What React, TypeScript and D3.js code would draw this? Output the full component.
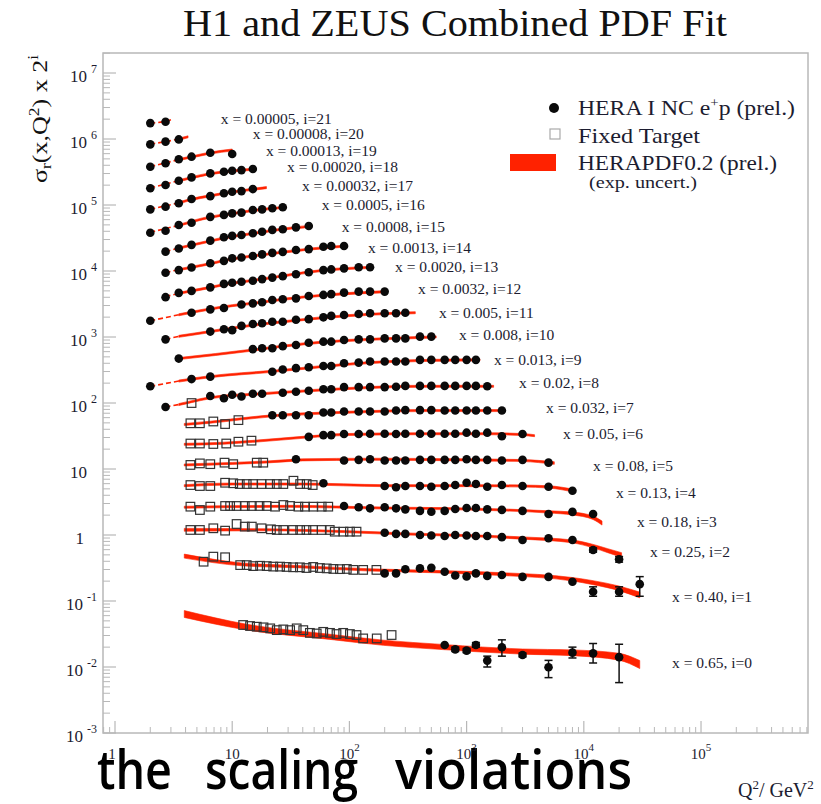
import React from "react";
import * as d3 from "d3";

// Bin labels, index = i (plotted value is sigma_r * 2^i)
const binX = [
  "0.65", "0.40", "0.25", "0.18", "0.13", "0.08", "0.05", "0.032", "0.02", "0.013", "0.008",
  "0.005", "0.0032", "0.0020", "0.0013", "0.0008", "0.0005", "0.00032", "0.00020", "0.00013",
  "0.00008", "0.00005",
];

// HERA I NC e+p points per bin: [Q2, sigma_r, errLow?, errHigh?]
const heraPoints: number[][][] = [
  [[650, 0.0216], [800, 0.0185, 0.0172, 0.0199], [1000, 0.0177, 0.0165, 0.019], [1200, 0.0216, 0.0199, 0.0235],
   [1500, 0.0125, 0.01, 0.0146], [2000, 0.0199, 0.0146, 0.0258], [3000, 0.0152, 0.0142, 0.0163],
   [5000, 0.0099, 0.0069, 0.0126], [8000, 0.0165, 0.0137, 0.02], [12000, 0.0161, 0.0115, 0.0227],
   [20000, 0.0141, 0.0058, 0.0221]],
  [[200, 0.131], [250, 0.131], [300, 0.151], [400, 0.156], [500, 0.159], [650, 0.139], [800, 0.122], [1000, 0.118],
   [1200, 0.131], [1500, 0.12], [2000, 0.124], [3000, 0.116], [5000, 0.116], [8000, 0.098],
   [12000, 0.069, 0.059, 0.082], [20000, 0.069, 0.059, 0.082], [30000, 0.09, 0.059, 0.117]],
  [[200, 0.271], [250, 0.26], [300, 0.26], [400, 0.25], [500, 0.246], [650, 0.242], [800, 0.25], [1000, 0.246],
   [1200, 0.242], [1500, 0.242], [2000, 0.232], [3000, 0.21], [5000, 0.223], [8000, 0.21],
   [12000, 0.148, 0.137, 0.16], [20000, 0.107, 0.097, 0.118]],
  [[90, 0.344], [120, 0.33], [150, 0.317], [200, 0.33], [250, 0.317], [300, 0.306], [400, 0.29], [500, 0.282],
   [650, 0.29], [800, 0.31], [1000, 0.32], [1200, 0.32], [1500, 0.306], [2000, 0.3], [3000, 0.29],
   [5000, 0.26], [8000, 0.28], [12000, 0.26]],
  [[60, 0.38], [200, 0.345], [250, 0.33], [300, 0.345], [400, 0.345], [500, 0.337], [650, 0.345], [800, 0.357],
   [1000, 0.387], [1200, 0.37], [1500, 0.337], [2000, 0.357], [3000, 0.345], [5000, 0.337], [8000, 0.293]],
  [[35, 0.44], [90, 0.42], [120, 0.43], [150, 0.44], [200, 0.42], [250, 0.42], [300, 0.42], [400, 0.43], [500, 0.43],
   [650, 0.43], [800, 0.43], [1000, 0.44], [1200, 0.43], [1500, 0.43], [2000, 0.42], [3000, 0.43], [5000, 0.39]],
  [[45, 0.48], [60, 0.51], [70, 0.51], [90, 0.53], [120, 0.53], [150, 0.535], [200, 0.535], [250, 0.53], [300, 0.535],
   [400, 0.535], [500, 0.535], [650, 0.535], [800, 0.535], [1000, 0.555], [1200, 0.535], [1500, 0.555],
   [2000, 0.49], [3000, 0.53]],
  [[22, 0.51], [27, 0.51], [35, 0.51], [45, 0.51], [60, 0.56], [70, 0.56], [90, 0.58], [120, 0.58], [150, 0.58],
   [200, 0.58], [250, 0.6], [300, 0.61], [400, 0.61], [500, 0.61], [650, 0.6], [800, 0.6], [1000, 0.6],
   [1200, 0.6], [1500, 0.6], [2000, 0.6]],
  [[2.7, 0.34], [6.5, 0.5], [8.5, 0.46], [10, 0.52], [12, 0.49], [15, 0.54], [18, 0.54], [27, 0.56], [35, 0.58],
   [45, 0.6], [60, 0.63], [70, 0.63], [90, 0.68], [120, 0.68], [150, 0.68], [200, 0.68], [250, 0.69], [300, 0.71],
   [400, 0.71], [500, 0.71], [650, 0.71], [800, 0.71], [1000, 0.71], [1200, 0.71], [1500, 0.7]],
  [[2, 0.35], [4.5, 0.45], [6.5, 0.49], [22, 0.58], [27, 0.63], [35, 0.66], [45, 0.68], [60, 0.71], [70, 0.71],
   [90, 0.78], [120, 0.8], [150, 0.83], [200, 0.83], [250, 0.83], [300, 0.83], [400, 0.88], [500, 0.88],
   [650, 0.88], [800, 0.88], [1000, 0.88], [1200, 0.88]],
  [[3.5, 0.46], [15, 0.64], [18, 0.66], [22, 0.66], [27, 0.71], [35, 0.74], [45, 0.8], [60, 0.83], [70, 0.83],
   [90, 0.88], [120, 0.9], [150, 0.9], [200, 0.93], [250, 0.93], [300, 0.93], [400, 0.99], [500, 0.99]],
  [[2.7, 0.45], [6.5, 0.59], [8.5, 0.64], [10, 0.62], [12, 0.72], [15, 0.77], [18, 0.79], [22, 0.83], [27, 0.83],
   [35, 0.89], [45, 0.91], [60, 0.97], [70, 1.02], [90, 1.05], [120, 1.09], [150, 1.12], [200, 1.12],
   [250, 1.12], [300, 1.14]],
  [[2, 0.43], [4.5, 0.57], [6.5, 0.64], [8.5, 0.67], [12, 0.76], [15, 0.79], [18, 0.82], [22, 0.89], [27, 0.91],
   [35, 0.94], [45, 1.02], [60, 1.06], [70, 1.09], [90, 1.15], [120, 1.19], [150, 1.19], [200, 1.19]],
  [[2.7, 0.49], [3.5, 0.57], [4.5, 0.61], [6.5, 0.69], [8.5, 0.78], [10, 0.81], [12, 0.84], [15, 0.87], [18, 0.92],
   [22, 0.97], [27, 1.02], [35, 1.09], [45, 1.17], [60, 1.26], [70, 1.29], [90, 1.34], [120, 1.39], [150, 1.39]],
  [[2.7, 0.575], [3.5, 0.63], [4.5, 0.69], [6.5, 0.8], [8.5, 0.87], [10, 0.95], [12, 0.98], [15, 1.03], [18, 1.09],
   [22, 1.15], [27, 1.19], [35, 1.27], [45, 1.31], [60, 1.42], [70, 1.46], [90, 1.46]],
  [[2.7, 0.6], [3.5, 0.67], [4.5, 0.76], [6.5, 0.88], [8.5, 0.99], [10, 1.04], [12, 1.07], [15, 1.14], [18, 1.2],
   [22, 1.28], [27, 1.31], [35, 1.4], [45, 1.47]],
  [[2, 0.58], [2.7, 0.62], [3.5, 0.76], [4.5, 0.82], [6.5, 1.01], [8.5, 1.08], [10, 1.14], [12, 1.17], [15, 1.28],
   [18, 1.31], [22, 1.36], [27, 1.41]],
  [[2, 0.655], [2.7, 0.72], [3.5, 0.81], [4.5, 0.94], [6.5, 1.04], [8.5, 1.15], [10, 1.21], [12, 1.24], [15, 1.33]],
  [[2, 0.684], [2.7, 0.767], [3.5, 0.89], [4.5, 1.0], [6.5, 1.15], [8.5, 1.22], [10, 1.26], [12, 1.29], [15, 1.34]],
  [[2, 0.725], [2.7, 0.82], [3.5, 0.94], [4.5, 1.03], [6.5, 1.18], [10, 1.13]],
  [[2, 0.79], [2.7, 0.87], [3.5, 0.94]],
  [[2, 0.83], [2.7, 0.87]],
];

// Fixed-target points per bin: [Q2, sigma_r]
const fixedTarget: number[][][] = [
  [[12.4, 0.0433], [14.2, 0.0418], [16.2, 0.0408], [18.5, 0.0399], [21.1, 0.0385], [24, 0.0362], [27.3, 0.0371],
   [31.2, 0.0362], [35.5, 0.0385], [40.4, 0.0362], [46, 0.0329], [52.6, 0.0322], [59.8, 0.0341], [68.3, 0.0329],
   [77.6, 0.0316], [88.5, 0.0329], [101, 0.0316], [115, 0.0305], [131, 0.0271], [171, 0.0271], [229, 0.0305]],
  [[5.7, 0.197], [6.9, 0.235], [8.7, 0.23], [11.7, 0.175], [13.3, 0.175], [15.1, 0.169], [17.3, 0.171],
   [19.7, 0.169], [22.4, 0.166], [25.6, 0.166], [29.1, 0.164], [33.1, 0.162], [37.8, 0.162], [43, 0.158],
   [49.1, 0.164], [56, 0.158], [64, 0.156], [73, 0.153], [83, 0.152], [95, 0.153], [108, 0.148], [131, 0.148],
   [170, 0.148]],
  [[4.4, 0.298], [5.3, 0.298], [6.9, 0.316], [8.7, 0.291], [10.9, 0.367], [12.8, 0.335], [14.7, 0.335],
   [17.8, 0.316], [21.4, 0.305], [24, 0.298], [27.3, 0.298], [33, 0.298], [38, 0.298], [43, 0.298], [49, 0.298],
   [58, 0.298], [68, 0.298], [75, 0.281], [89, 0.281], [101, 0.281], [115, 0.281]],
  [[4.4, 0.336], [5.3, 0.299], [6.5, 0.336], [8.7, 0.344], [9.6, 0.344], [10.9, 0.344], [12.8, 0.344],
   [14.7, 0.344], [17.1, 0.344], [19.7, 0.344], [23.2, 0.336], [27.3, 0.356], [31.2, 0.344], [36.7, 0.336],
   [41.8, 0.336], [49.2, 0.336], [58, 0.336], [66, 0.336]],
  [[4.4, 0.357], [5.3, 0.345], [6.5, 0.345], [8.7, 0.387], [10.2, 0.38], [11.6, 0.37], [13.3, 0.37], [15.1, 0.37],
   [17.8, 0.37], [21, 0.37], [24, 0.37], [27.3, 0.37], [33.3, 0.415], [38, 0.37], [43.2, 0.37], [48.6, 0.357]],
  [[4.4, 0.36], [5.3, 0.38], [6.5, 0.37], [8.6, 0.39], [10.2, 0.37], [16.2, 0.39], [18.4, 0.39]],
  [[4.4, 0.38], [5.3, 0.38], [6.9, 0.374], [8.9, 0.38], [11.3, 0.405], [14.6, 0.42]],
  [[4.4, 0.385], [5.3, 0.385], [6.9, 0.41], [8.7, 0.375], [11.3, 0.43]],
  [[4.5, 0.39]],
];

// HERAPDF0.2 fit per bin: [Q2, sigma_r, relative uncertainty?]
const fitCurves: number[][][] = [
  [[3.9, 0.064, 0.12], [13.3, 0.0404, 0.1], [68, 0.0288, 0.09], [195, 0.0234, 0.09], [620, 0.0202, 0.09],
   [3000, 0.0172, 0.09], [8000, 0.0165, 0.1], [20000, 0.0144, 0.12], [30000, 0.011, 0.14]],
  [[3.9, 0.24, 0.07], [12, 0.18, 0.05], [40, 0.165, 0.04], [150, 0.148, 0.04], [500, 0.14, 0.04],
   [2000, 0.128, 0.05], [8000, 0.107, 0.06], [12000, 0.095, 0.07], [20000, 0.078, 0.08], [30000, 0.062, 0.1]],
  [[3.9, 0.3, 0.05], [20, 0.3], [100, 0.28], [300, 0.26], [1000, 0.245], [3000, 0.225, 0.04], [8000, 0.2, 0.05],
   [12000, 0.17, 0.06], [16000, 0.145, 0.07], [21000, 0.125, 0.08]],
  [[3.9, 0.33], [30, 0.34], [200, 0.32], [1000, 0.31], [5000, 0.28, 0.04], [8000, 0.265, 0.05],
   [12000, 0.228, 0.06], [14300, 0.19, 0.07]],
  [[3.9, 0.35], [10, 0.37], [40, 0.37], [200, 0.35], [1000, 0.35], [3000, 0.345], [5000, 0.335, 0.04],
   [8500, 0.29, 0.05]],
  [[3.9, 0.36], [10, 0.38], [20, 0.4], [40, 0.43], [150, 0.44], [1000, 0.43], [3000, 0.42], [5600, 0.385, 0.045]],
  [[3.9, 0.37], [8.5, 0.385], [15, 0.41], [45, 0.48], [90, 0.52], [400, 0.535], [1500, 0.535], [3000, 0.52],
   [3800, 0.5]],
  [[3.9, 0.37], [6.5, 0.4], [12, 0.45], [22, 0.5], [60, 0.55], [150, 0.58], [400, 0.6], [2000, 0.6], [2100, 0.6]],
  [[2.7, 0.34], [3.5, 0.37], [4.5, 0.41], [6.5, 0.47], [15, 0.53], [45, 0.6], [120, 0.66], [400, 0.7], [1700, 0.7]],
  [[2, 0.35], [3.5, 0.42], [6.5, 0.49], [22, 0.59], [60, 0.7], [150, 0.8], [400, 0.86], [1300, 0.88]],
  [[3.5, 0.46], [15, 0.62], [27, 0.71], [60, 0.82], [150, 0.9], [550, 0.98]],
  [[2.7, 0.45], [3.5, 0.5], [6.5, 0.59], [12, 0.7], [27, 0.83], [60, 0.96], [150, 1.08], [365, 1.14]],
  [[2, 0.43], [3.5, 0.53], [6.5, 0.65], [10, 0.73], [15, 0.79], [27, 0.91], [60, 1.05], [210, 1.19]],
  [[2.7, 0.5], [3.5, 0.56], [6.5, 0.69], [10, 0.8], [15, 0.88], [27, 1.03], [60, 1.25], [160, 1.39]],
  [[2.7, 0.58], [3.5, 0.64], [6.5, 0.79], [10, 0.93], [15, 1.03], [27, 1.18], [45, 1.31], [95, 1.46]],
  [[2.7, 0.6], [3.5, 0.68], [6.5, 0.87], [10, 1.02], [15, 1.13], [22, 1.26], [48, 1.46]],
  [[2, 0.59], [3.5, 0.75], [6.5, 1.0], [10, 1.13], [15, 1.26], [29, 1.41]],
  [[2, 0.66], [3.5, 0.82], [4.5, 0.93], [6.5, 1.05], [10, 1.2], [15, 1.32], [19.6, 1.4]],
  [[2, 0.69], [3.5, 0.89], [4.5, 0.99], [6.5, 1.14], [10, 1.25], [16, 1.34]],
  [[2, 0.73], [2.7, 0.83], [3.5, 0.93], [4.5, 1.02], [6.5, 1.17], [10, 1.3]],
  [[2, 0.8], [2.7, 0.87], [3.5, 0.95], [4.2, 1.03]],
  [[2, 0.83], [2.7, 0.88], [3.0, 0.93]],
];

// Where each bin label sits, in axis units: [Q2, plotted value]
const labelAnchors: number[][] = [
  [56600, 0.0115], [56600, 0.115], [36700, 0.552], [28400, 1.57], [18800, 4.33], [12000, 11.1], [6650, 33.9],
  [4760, 83.9], [2800, 201], [1710, 449], [860, 1070], [580, 2310], [385, 5330], [245, 11500], [144, 22300],
  [86, 46500], [58, 103000], [39.4, 194000], [29.4, 377000], [19.4, 658000], [15, 1230000], [8.0, 2010000],
];

const yTickExps = [-3, -2, -1, 0, 1, 2, 3, 4, 5, 6, 7];
const xTickExps = [0, 1, 2, 3, 4, 5];
const Q2_MIN_FIT = 3.5;

const X0 = 103, X1 = 808, Y0 = 53, Y1 = 733;
const x = d3.scaleLog().domain([0.79, 8.18e5]).range([X0, X1]);
const y = d3.scaleLog().domain([1e-3, 2.01e7]).range([Y1, Y0]);

const RED = "#ff2200";
const SERIF = "'Liberation Serif','Times New Roman',serif";
const TXT = "#1c1c30";
const AXIS = "#b8b8b8";
const DEF_ERR = 0.035;

// Split a fit curve at the lowest fitted Q2: below it the curve is an extrapolation (dashed)
function splitAt(knots: number[][], qc: number): [number[][], number[][]] {
  const lo: number[][] = [];
  const hi: number[][] = [];
  for (let k = 0; k < knots.length; k++) {
    const p = knots[k];
    if (p[0] <= qc) lo.push(p);
    if (p[0] >= qc) hi.push(p);
    const n = knots[k + 1];
    if (n && p[0] < qc && n[0] > qc) {
      const t = (Math.log(qc) - Math.log(p[0])) / (Math.log(n[0]) - Math.log(p[0]));
      const s = Math.exp(Math.log(p[1]) + t * (Math.log(n[1]) - Math.log(p[1])));
      const e = p[2] ?? DEF_ERR;
      lo.push([qc, s]);
      hi.push([qc, s, e]);
    }
  }
  return [lo.length > 1 ? lo : [], hi.length > 1 ? hi : []];
}

export default function App() {
  const dashed = d3
    .line<number[]>()
    .x((d) => x(d[0]))
    .y((d) => y(d[1]))
    .curve(d3.curveMonotoneX);

  const yMinor: number[] = [];
  for (let e = -3; e <= 7; e++) for (let m = 2; m <= 9; m++) if (m * 10 ** e <= 2.01e7) yMinor.push(m * 10 ** e);
  const xMinor: number[] = [0.8, 0.9];
  for (let e = 0; e <= 5; e++) for (let m = 2; m <= 9; m++) if (m * 10 ** e <= 8.18e5) xMinor.push(m * 10 ** e);

  return (
    <svg width={821} height={804} style={{ position: "absolute", left: 0, top: 0, background: "#fff" }}>
      <rect x={0} y={0} width={821} height={804} fill="#fff" />

      {/* title */}
      <text x={455} y={36} textAnchor="middle" fontFamily={SERIF} fontSize={37} fill="#111"
        textLength={544} lengthAdjust="spacingAndGlyphs">
        H1 and ZEUS Combined PDF Fit
      </text>

      {/* frame */}
      <rect x={X0} y={Y0} width={X1 - X0} height={Y1 - Y0} fill="none" stroke={AXIS} strokeWidth={1.5} />

      {/* y ticks */}
      {yTickExps.map((e) => (
        <line key={"ym" + e} x1={X0} x2={X0 + 13} y1={y(10 ** e)} y2={y(10 ** e)} stroke={AXIS} strokeWidth={1.2} />
      ))}
      {yMinor.map((v, k) => (
        <line key={"yn" + k} x1={X0} x2={X0 + 7} y1={y(v)} y2={y(v)} stroke={AXIS} strokeWidth={1} />
      ))}
      {/* x ticks */}
      {xTickExps.map((e) => (
        <line key={"xm" + e} x1={x(10 ** e)} x2={x(10 ** e)} y1={Y1} y2={Y1 - 12} stroke={AXIS} strokeWidth={1.2} />
      ))}
      {xMinor.map((v, k) => (
        <line key={"xn" + k} x1={x(v)} x2={x(v)} y1={Y1} y2={Y1 - 6} stroke={AXIS} strokeWidth={1} />
      ))}

      {/* y tick labels */}
      {yTickExps.map((e) => {
        const ty = y(10 ** e) + 8.5;
        if (e === 0)
          return (
            <text key={"yl" + e} x={84} y={ty} textAnchor="end" fontFamily={SERIF} fontSize={17} fill={TXT}>1</text>
          );
        if (e === 1)
          return (
            <text key={"yl" + e} x={87} y={ty} textAnchor="end" fontFamily={SERIF} fontSize={17} fill={TXT}>10</text>
          );
        return (
          <text key={"yl" + e} x={97} y={ty} textAnchor="end" fontFamily={SERIF} fontSize={17} fill={TXT}>
            10
            <tspan fontSize={12} dx={4} dy={-9}>{String(e)}</tspan>
          </text>
        );
      })}

      {/* y axis title */}
      <text transform="translate(47,119) rotate(-90)" textAnchor="middle" fontFamily={SERIF} fontSize={21}
        fill="#111" textLength={128} lengthAdjust="spacingAndGlyphs">
        σ<tspan fontSize={14} dy={4}>r</tspan>
        <tspan dy={-4}>(x,Q</tspan>
        <tspan fontSize={14} dy={-8}>2</tspan>
        <tspan dy={8}>) x 2</tspan>
        <tspan fontSize={14} dy={-9}>i</tspan>
      </text>

      {/* fit curves */}
      {fitCurves.map((knots, i) => {
        const scale = 2 ** i;
        const [lo, hi] = splitAt(knots, Q2_MIN_FIT);
        const band = d3
          .area<number[]>()
          .x((d) => x(d[0]))
          .y0((d) => y(scale * d[1] * (1 - (d[2] ?? DEF_ERR))))
          .y1((d) => y(scale * d[1] * (1 + (d[2] ?? DEF_ERR))))
          .curve(d3.curveMonotoneX);
        const loScaled = lo.map((d) => [d[0], d[1] * scale]);
        return (
          <g key={"fit" + i}>
            {lo.length > 1 && (
              <path d={dashed(loScaled) || ""} fill="none" stroke={RED} strokeWidth={1.6} strokeDasharray="5 3" />
            )}
            {hi.length > 1 && <path d={band(hi) || ""} fill={RED} stroke={RED} strokeWidth={0.6} />}
          </g>
        );
      })}

      {/* fixed target points */}
      {fixedTarget.map((pts, i) =>
        pts.map((p, k) => (
          <rect key={`ft${i}-${k}`} x={x(p[0]) - 4.3} y={y(p[1] * 2 ** i) - 4.3} width={8.6} height={8.6}
            fill="none" stroke="#333" strokeWidth={1.2} />
        ))
      )}

      {/* HERA points with error bars */}
      {heraPoints.map((pts, i) =>
        pts.map((p, k) => {
          const cx = x(p[0]);
          const cy = y(p[1] * 2 ** i);
          return (
            <g key={`h${i}-${k}`}>
              {p.length > 2 && (
                <g stroke="#111" strokeWidth={1.5}>
                  <line x1={cx} x2={cx} y1={y(p[2] * 2 ** i)} y2={y(p[3] * 2 ** i)} />
                  <line x1={cx - 4} x2={cx + 4} y1={y(p[2] * 2 ** i)} y2={y(p[2] * 2 ** i)} />
                  <line x1={cx - 4} x2={cx + 4} y1={y(p[3] * 2 ** i)} y2={y(p[3] * 2 ** i)} />
                </g>
              )}
              <circle cx={cx} cy={cy} r={4.3} fill="#0a0a0a" />
            </g>
          );
        })
      )}

      {/* bin labels */}
      {binX.map((xv, i) => (
        <text key={"bl" + i} x={x(labelAnchors[i][0])} y={y(labelAnchors[i][1])} dy="0.35em"
          fontFamily={SERIF} fontSize={15.5} fill={TXT}>
          {`x = ${xv}, i=${i}`}
        </text>
      ))}

      {/* legend */}
      <circle cx={554} cy={108} r={5} fill="#0a0a0a" />
      <text x={578} y={115} fontFamily={SERIF} fontSize={21} fill={TXT} textLength={217} lengthAdjust="spacingAndGlyphs">
        HERA I NC e<tspan fontSize={13} dy={-8}>+</tspan><tspan dy={8}>p (prel.)</tspan>
      </text>
      <rect x={550} y={129} width={10} height={10} fill="none" stroke="#aaa" strokeWidth={1.2} />
      <text x={578} y={143} fontFamily={SERIF} fontSize={21} fill={TXT} textLength={122} lengthAdjust="spacingAndGlyphs">
        Fixed Target
      </text>
      <rect x={510} y={154} width={46} height={17} fill={RED} />
      <text x={578} y={170} fontFamily={SERIF} fontSize={21} fill={TXT} textLength={199} lengthAdjust="spacingAndGlyphs">
        HERAPDF0.2 (prel.)
      </text>
      <text x={589} y={188} fontFamily={SERIF} fontSize={16} fill={TXT} textLength={108} lengthAdjust="spacingAndGlyphs">
        (exp. uncert.)
      </text>

      {/* caption */}
      <g fontFamily="'Open Sans','Noto Sans',sans-serif" fontSize={54} fontWeight={600} fill="#000">
        <text x={97} y={789} textLength={75} lengthAdjust="spacingAndGlyphs">the</text>
        <text x={205} y={789} textLength={153} lengthAdjust="spacingAndGlyphs">scaling</text>
        <text x={395} y={789} textLength={237} lengthAdjust="spacingAndGlyphs">violations</text>
      </g>

      {/* x tick labels */}
      {xTickExps.map((e) => {
        const tx = x(10 ** e);
        if (e === 0)
          return (
            <text key={"xl" + e} x={tx - 3} y={759} textAnchor="middle" fontFamily={SERIF} fontSize={15} fill={TXT}>1</text>
          );
        if (e === 1)
          return (
            <text key={"xl" + e} x={tx} y={759} textAnchor="middle" fontFamily={SERIF} fontSize={15} fill={TXT}>10</text>
          );
        return (
          <text key={"xl" + e} x={tx} y={759} textAnchor="middle" fontFamily={SERIF} fontSize={15} fill={TXT}>
            10<tspan fontSize={11} dy={-8}>{String(e)}</tspan>
          </text>
        );
      })}

      {/* x axis title */}
      <text x={738} y={797} fontFamily={SERIF} fontSize={20} fill={TXT}>
        Q<tspan fontSize={13} dy={-8}>2</tspan><tspan dy={8}>/ GeV</tspan><tspan fontSize={13} dy={-8}>2</tspan>
      </text>
    </svg>
  );
}
